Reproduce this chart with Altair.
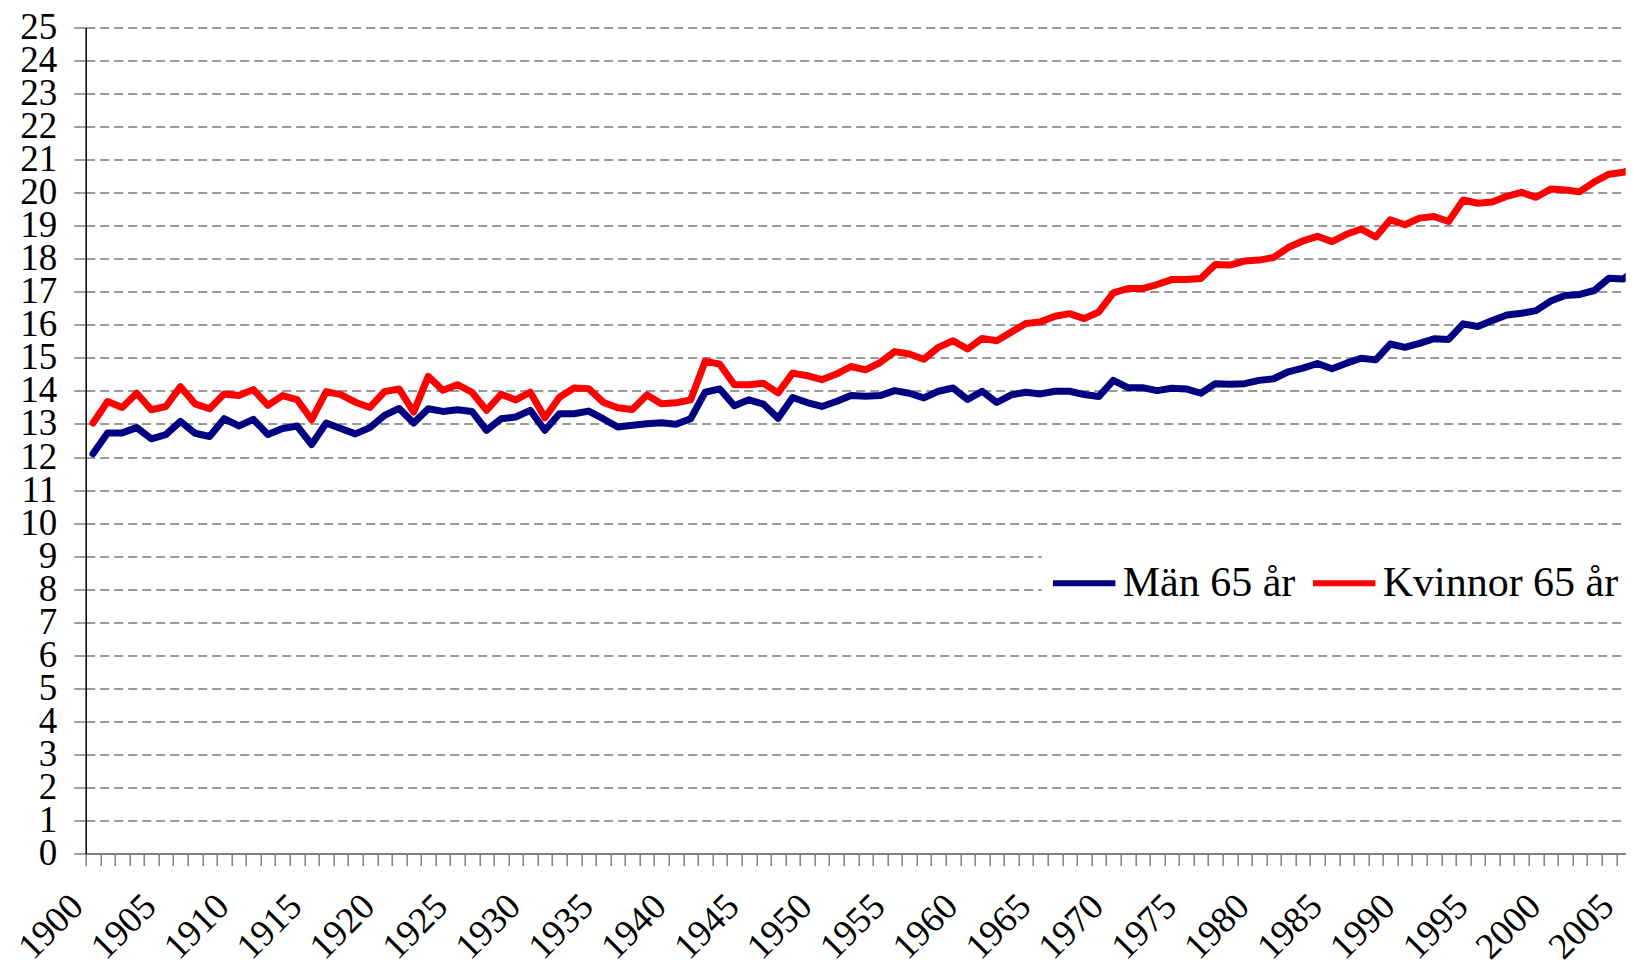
import altair as alt
import pandas as pd

years = list(range(1900, 2007))

kvinnor = [
    13.03, 13.68, 13.50, 13.93, 13.43, 13.53, 14.13, 13.61, 13.46, 13.91,
    13.86, 14.04, 13.56, 13.86, 13.74, 13.13, 13.98, 13.89, 13.66, 13.50,
    13.98, 14.06, 13.36, 14.44, 14.02, 14.19, 13.96, 13.41, 13.90, 13.73,
    13.96, 13.19, 13.81, 14.09, 14.07, 13.66, 13.49, 13.44, 13.88, 13.61,
    13.64, 13.73, 14.90, 14.81, 14.19, 14.19, 14.23, 13.94, 14.54, 14.46,
    14.34, 14.51, 14.74, 14.64, 14.86, 15.19, 15.12, 14.96, 15.32, 15.52,
    15.27, 15.59, 15.52, 15.78, 16.04, 16.09, 16.26, 16.34, 16.19, 16.39,
    16.97, 17.10, 17.10, 17.22, 17.37, 17.37, 17.40, 17.83, 17.81, 17.93,
    17.96, 18.04, 18.34, 18.54, 18.68, 18.52, 18.74, 18.90, 18.66, 19.18,
    19.03, 19.23, 19.28, 19.13, 19.78, 19.68, 19.72, 19.89, 20.01, 19.86,
    20.11, 20.08, 20.03, 20.33, 20.56, 20.62, 20.80,
]

man = [
    12.10, 12.73, 12.73, 12.89, 12.55, 12.68, 13.08, 12.72, 12.62, 13.16,
    12.94, 13.14, 12.68, 12.86, 12.94, 12.38, 13.03, 12.86, 12.70, 12.89,
    13.26, 13.47, 13.03, 13.46, 13.38, 13.43, 13.38, 12.81, 13.16, 13.21,
    13.41, 12.81, 13.31, 13.31, 13.39, 13.16, 12.91, 12.96, 13.01, 13.04,
    12.99, 13.16, 13.96, 14.06, 13.55, 13.73, 13.60, 13.17, 13.80, 13.65,
    13.53, 13.68, 13.86, 13.84, 13.86, 14.01, 13.93, 13.79, 13.99, 14.09,
    13.74, 13.99, 13.65, 13.88, 13.96, 13.91, 13.99, 13.99, 13.89, 13.83,
    14.32, 14.10, 14.10, 14.01, 14.08, 14.06, 13.93, 14.22, 14.20, 14.22,
    14.32, 14.37, 14.58, 14.69, 14.83, 14.67, 14.84, 14.99, 14.94, 15.42,
    15.32, 15.44, 15.58, 15.56, 16.03, 15.95, 16.13, 16.30, 16.35, 16.43,
    16.72, 16.89, 16.92, 17.04, 17.41, 17.39, 17.75,
]

series_names = ["Män 65 år", "Kvinnor 65 år"]
series_colors = ["#000080", "#FF0000"]
y_ticks = list(range(0, 26))

df = pd.concat([
    pd.DataFrame({"year": years, "value": man, "serie": series_names[0]}),
    pd.DataFrame({"year": years, "value": kvinnor, "serie": series_names[1]}),
], ignore_index=True)

FONT = "Liberation Serif"
STEP = 14.576
X0, X1 = 1899.5, 2005.15
W = round((X1 - X0) * STEP)
H = 826

chart = alt.Chart(df).mark_line(
    strokeWidth=7, clip=True, strokeJoin="round", strokeCap="round"
).encode(
    x=alt.X(
        "year:Q",
        scale=alt.Scale(domain=[X0, X1], nice=False, zero=False),
        axis=alt.Axis(
            title=None,
            values=years,
            tickOffset=-STEP / 2,
            tickSize=12,
            tickColor="#808080",
            tickWidth=1.5,
            domainColor="#808080",
            domainWidth=2,
            grid=False,
            labelExpr="datum.value % 5 == 0 ? datum.label : ''",
            labelAngle=-45,
            labelAlign="right",
            labelBaseline="middle",
            labelPadding=35,
            labelOffset=-16 + STEP / 2,
            labelFont=FONT,
            labelFontSize=37,
            labelColor="black",
            labelOverlap=False,
            labelFlush=False,
            labelBound=False,
            format="d",
        ),
    ),
    y=alt.Y(
        "value:Q",
        scale=alt.Scale(domain=[0, 25], nice=False),
        axis=alt.Axis(
            title=None,
            values=y_ticks,
            tickSize=12,
            tickColor="#808080",
            tickWidth=1.5,
            domainColor="black",
            domainWidth=1.5,
            grid=True,
            gridColor="#333333",
            gridDash=[9, 5],
            gridWidth=1,
            labelPadding=17,
            labelFont=FONT,
            labelFontSize=37,
            labelColor="black",
            labelOverlap=False,
            labelFlush=False,
        ),
    ),
    color=alt.Color(
        "serie:N",
        scale=alt.Scale(domain=series_names, range=series_colors),
        legend=alt.Legend(
            title=None,
            orient="none",
            legendX=956,
            legendY=513,
            direction="horizontal",
            fillColor="white",
            padding=8,
            symbolType="stroke",
            symbolStrokeWidth=6,
            symbolSize=3900,
            labelFont=FONT,
            labelFontSize=42,
            labelColor="black",
            labelOffset=4,
            columnPadding=5,
            labelLimit=400,
        ),
    ),
    detail="serie:N",
).properties(
    width=W,
    height=H,
    autosize=alt.AutoSizeParams(type="none"),
    padding={"left": 77.7, "top": 19.5, "right": 0, "bottom": 111},
    background="white",
).configure_view(stroke=None)

chart.save("out.html", embed_options={"renderer": "svg", "actions": False})
